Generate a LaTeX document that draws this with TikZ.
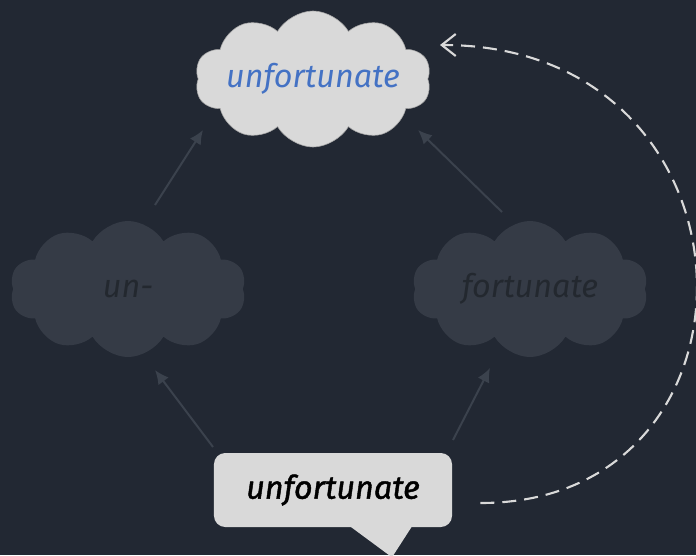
\documentclass[tikz,border=0pt]{standalone}
\usepackage{fontspec}
\newfontfamily\wordfont{Fira Sans}
\newfontfamily\heavyword{Fira Sans}[FakeBold=1.3]
\usetikzlibrary{arrows.meta,calc,shapes.symbols}
\definecolor{bg}{HTML}{222833}
\definecolor{dimcloud}{HTML}{353B46}
\definecolor{dimtext}{HTML}{23282F}
\definecolor{dimline}{HTML}{3B424D}
\definecolor{lightfill}{HTML}{D9D9D9}
\definecolor{wordblue}{HTML}{4472C4}
\newcommand{\cloudword}[1]{\makebox[0pt]{#1}}
\tikzset{
	cloudnode/.style={cloud, cloud puffs=10, cloud puff arc=120, aspect=1.72,
			minimum width=5.9cm, minimum height=3.4cm, inner sep=0pt,
			font=\wordfont\itshape\fontsize{23}{26}\selectfont},
	dimcloud/.style={cloudnode, fill=dimcloud, text=dimtext},
	link/.style={draw=dimline, line width=1.4pt, -{Latex[length=3.5mm,width=3.2mm]}},
	recall/.style={draw=lightfill, line width=1.5pt, dash pattern=on 0.35cm off 0.2cm,
			-{Straight Barb[length=3.5mm,width=5.5mm]}}
}

\begin{document}
\begin{tikzpicture}[x=0.025cm,y=-0.025cm]
	\fill[bg] (0,0) rectangle (696,555);
	\useasboundingbox (0,0) rectangle (696,555);

	\node[cloudnode, fill=lightfill, draw=gray!70, thin, text=wordblue] (whole) at (313,79) {\cloudword{unfortunate}};
	\node[dimcloud] (prefix) at (128,289) {\cloudword{un-}};
	\node[dimcloud] (stem) at (530,289) {\cloudword{fortunate}};

	\node[fill=lightfill, rounded corners=8pt, minimum width=5.95cm, minimum height=1.85cm,
		font=\heavyword\itshape\fontsize{23}{26}\selectfont] (word) at (333,490) {unfortunate};
	\fill[lightfill] ($(word.south)+(17,-1)$) -- ($(word.south)+(79,-1)$) -- ($(word.south)+(59,30)$) -- cycle;

	\draw[link] ($(prefix.center)+(27,-84)$) -- ($(whole.center)+(-110,51)$);
	\draw[link] ($(stem.center)+(-28,-77)$) -- ($(whole.center)+(105,51)$);
	\draw[link] ($(word.center)+(-120,-43)$) -- ($(prefix.center)+(27,81)$);
	\draw[link] ($(word.center)+(120,-50)$) -- ($(stem.center)+(-40,79)$);

	\draw[recall] ($(word.east)+(28,13)$) .. controls (780,503) and (770,45) .. ($(whole.center)+(127,-34)$);
\end{tikzpicture}
\end{document}
